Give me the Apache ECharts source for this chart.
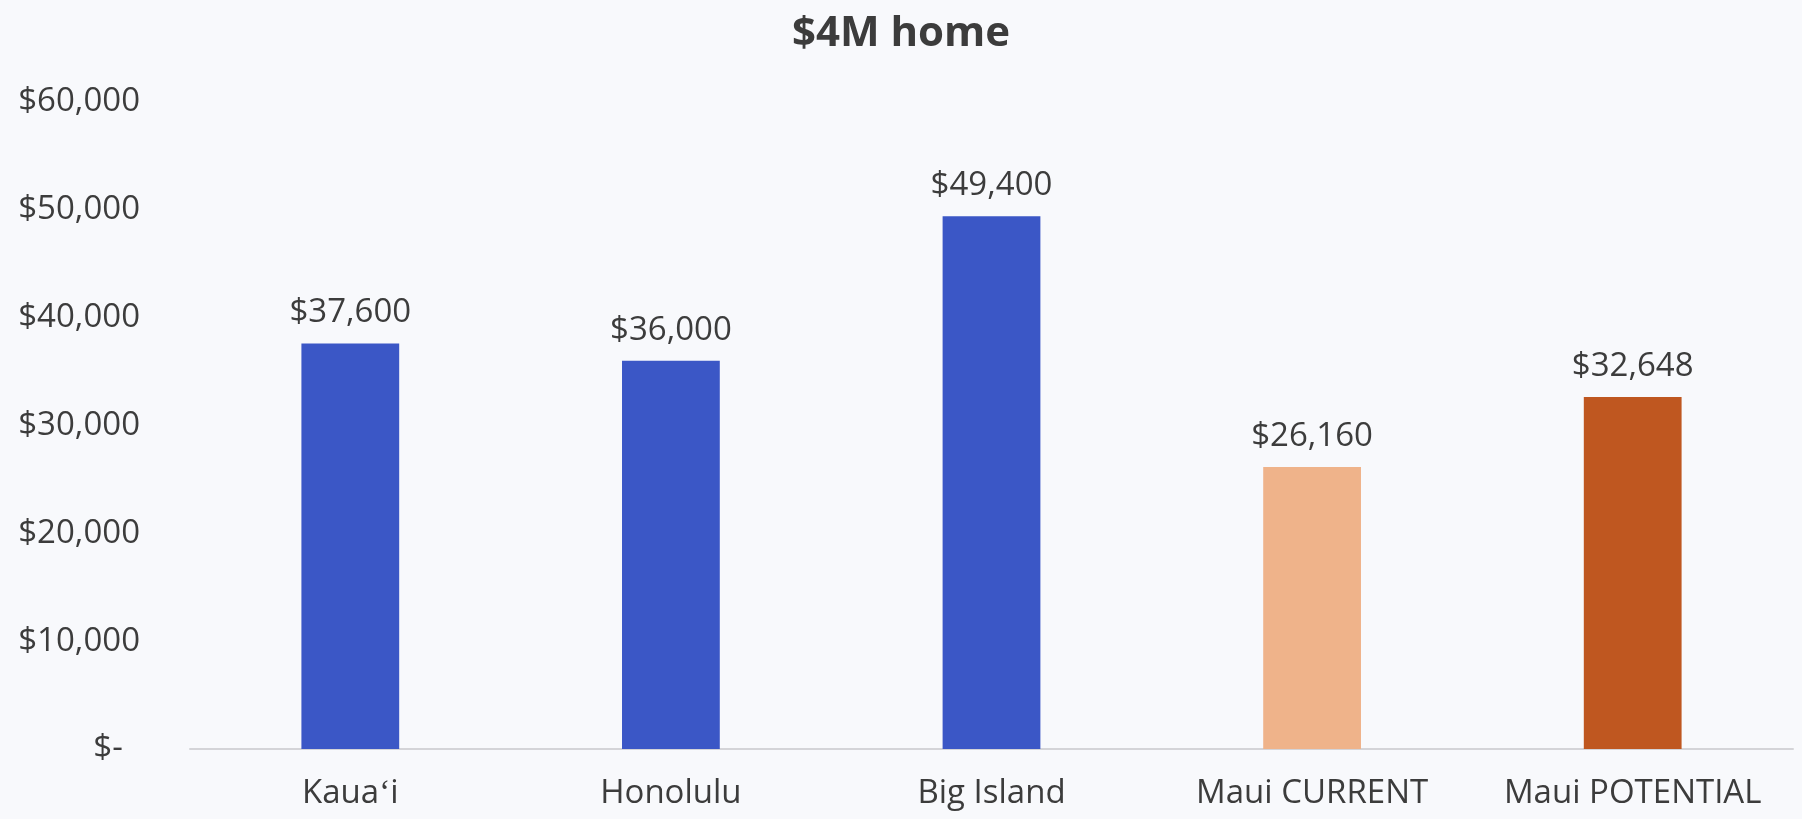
<!DOCTYPE html>
<html>
<head>
<meta charset="utf-8">
<script src="https://cdn.jsdelivr.net/npm/echarts@6/dist/echarts.min.js"></script>
<style>
  html, body { margin: 0; padding: 0; background: #f8f9fc; }
  #chart { width: 1802px; height: 819px; }
</style>
</head>
<body>
<div id="chart"></div>
<script>
// 类别和数值
const categories = ['Kauaʻi', 'Honolulu', 'Big Island', 'Maui CURRENT', 'Maui POTENTIAL']
const values = [37600, 36000, 49400, 26160, 32648]
const barColors = ['#3b57c6', '#3b57c6', '#3b57c6', '#efb38a', '#bf5720']
const yTicks = { min: 0, max: 60000, interval: 10000 }

const money = v => v === 0 ? '$-  ' : '$' + v.toLocaleString('en-US')

const chart = echarts.init(document.getElementById('chart'))

const option = {
  backgroundColor: '#f8f9fc',
  textStyle: { fontFamily: 'Open Sans' },
  title: {
    text: '$4M home',
    left: 'center',
    top: 8,
    textStyle: { fontSize: 42, fontWeight: 'bold', color: '#3c3c3c', fontFamily: 'Open Sans' }
  },
  grid: { left: 190, right: 9, top: 102, bottom: 70 },
  xAxis: {
    type: 'category',
    data: categories,
    axisLine: { lineStyle: { color: '#d4d4d8', width: 2 } },
    axisTick: { show: false },
    axisLabel: { color: '#3c3c3c', fontSize: 33, margin: 28, interval: 0, hideOverlap: false }
  },
  yAxis: {
    type: 'value',
    min: yTicks.min,
    max: yTicks.max,
    interval: yTicks.interval,
    splitLine: { show: false },
    axisLine: { show: false },
    axisTick: { show: false },
    axisLabel: {
      color: '#3c3c3c',
      fontSize: 33,
      margin: 50,
      formatter: money
    }
  },
  series: [
    {
      type: 'bar',
      data: values.map((v, i) => ({ value: v, itemStyle: { color: barColors[i] } })),
      barWidth: '30.5%',
      label: {
        show: true,
        position: 'top',
        distance: 14,
        color: '#3c3c3c',
        fontSize: 33,
        formatter: p => money(p.value)
      }
    }
  ]
}

chart.setOption(option)
</script>
</body>
</html>
